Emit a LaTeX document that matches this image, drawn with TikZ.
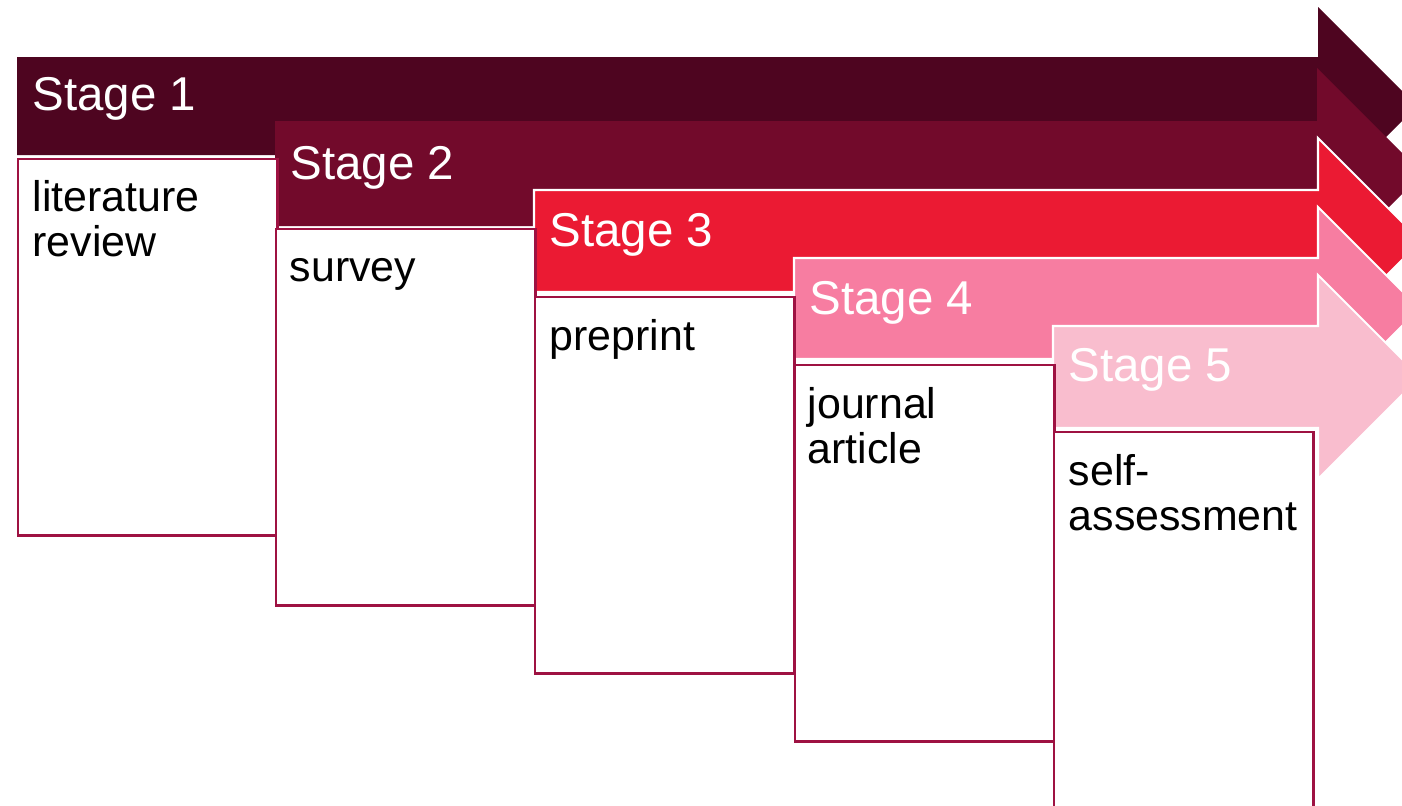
\documentclass[tikz,border=0pt]{standalone}
\usepackage{fontspec}
\setmainfont{Liberation Sans}
\usetikzlibrary{positioning}

\definecolor{stageone}{RGB}{78,5,32}
\definecolor{stagetwo}{RGB}{114,10,43}
\definecolor{stagethree}{RGB}{235,26,51}
\definecolor{stagefour}{RGB}{247,125,161}
\definecolor{stagefive}{RGB}{249,189,206}
\definecolor{boxline}{RGB}{158,18,66}

\begin{document}
\begin{tikzpicture}[
            x = 0.01cm, % one unit per pixel
            y = -0.01cm, % y runs downwards
            line join = miter
        ]

        \tikzstyle{stage arrow}=[
            draw = white,
            line width = 0.6pt
        ]
        \tikzstyle{stage box}=[
            draw = boxline,
            line width = 0.7pt,
            fill = white,
            anchor = north west,
            inner sep = 0pt,
            minimum width = 2.59cm,
            minimum height = 3.76cm
        ]
        \tikzstyle{stage label}=[
            anchor = base west,
            inner sep = 0pt,
            text = white,
            font = \fontsize{13.5}{16}\selectfont
        ]
        \tikzstyle{stage text}=[
            anchor = base west,
            inner sep = 0pt,
            text width = 2.4cm,
            align = left,
            font = \fontsize{12.2}{13}\selectfont
        ]

        \clip (0,0) rectangle (1402,806);

        % the five arrows, back to front
        \fill[stageone] (17,57) -- (1318,57) -- (1318,7) -- (1417,106)
            -- (1318,205) -- (1318,155) -- (17,155) -- cycle;
        \fill[stagetwo] (275,121) -- (1317,121) -- (1317,68) -- (1422.5,173.5)
            -- (1317,279) -- (1317,226) -- (275,226) -- cycle;
        \filldraw[stage arrow, fill = stagethree] (534,190) -- (1318,190) -- (1318,138) -- (1421,241)
            -- (1318,344) -- (1318,292) -- (534,292) -- cycle;
        \filldraw[stage arrow, fill = stagefour] (794,258) -- (1318,258) -- (1318,207) -- (1419.5,308.5)
            -- (1318,410) -- (1318,359) -- (794,359) -- cycle;
        \filldraw[stage arrow, fill = stagefive] (1053,326) -- (1318,326) -- (1318,275) -- (1420,377)
            -- (1318,479) -- (1318,428) -- (1053,428) -- cycle;

        \node[stage box] (box1) at (17,158) {};
        \node[stage box] (box2) at (275,228) {};
        \node[stage box] (box3) at (534,296) {};
        \node[stage box] (box4) at (794,364) {};
        \node[stage box] (box5) at (1053,431) {};

        \node[stage label, above right = 0.47cm and 0.15cm of box1.north west, anchor = base west] (s1) {Stage 1};
        \node[stage label, above right = 0.48cm and 0.15cm of box2.north west, anchor = base west] (s2) {Stage 2};
        \node[stage label, above right = 0.49cm and 0.15cm of box3.north west, anchor = base west] (s3) {Stage 3};
        \node[stage label, above right = 0.49cm and 0.15cm of box4.north west, anchor = base west] (s4) {Stage 4};
        \node[stage label, above right = 0.49cm and 0.15cm of box5.north west, anchor = base west] (s5) {Stage 5};

        \node[stage text, below right = 0.53cm and 0.15cm of box1.north west, anchor = base west] (t1) {literature\\review};
        \node[stage text, below right = 0.53cm and 0.14cm of box2.north west, anchor = base west] (t2) {survey};
        \node[stage text, below right = 0.54cm and 0.15cm of box3.north west, anchor = base west] (t3) {preprint};
        \node[stage text, below right = 0.54cm and 0.13cm of box4.north west, anchor = base west] (t4) {journal\\article};
        \node[stage text, below right = 0.54cm and 0.15cm of box5.north west, anchor = base west] (t5) {self-\\assessment};

    \end{tikzpicture}
\end{document}
